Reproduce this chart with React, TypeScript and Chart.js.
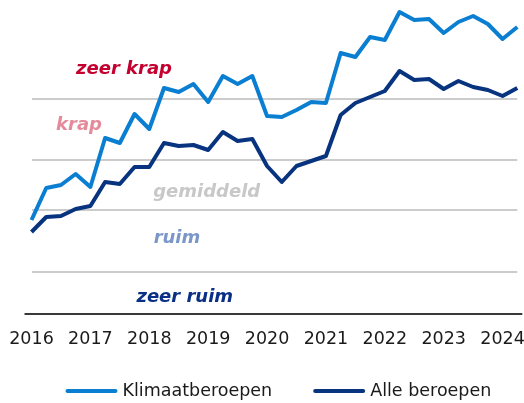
import React, { useEffect, useRef } from "react";
import { Chart, registerables } from "chart.js";

Chart.register(...registerables);

const QUARTERS: string[] = [
  "2016 K1", "2016 K2", "2016 K3", "2016 K4",
  "2017 K1", "2017 K2", "2017 K3", "2017 K4",
  "2018 K1", "2018 K2", "2018 K3", "2018 K4",
  "2019 K1", "2019 K2", "2019 K3", "2019 K4",
  "2020 K1", "2020 K2", "2020 K3", "2020 K4",
  "2021 K1", "2021 K2", "2021 K3", "2021 K4",
  "2022 K1", "2022 K2", "2022 K3", "2022 K4",
  "2023 K1", "2023 K2", "2023 K3", "2023 K4",
  "2024 K1", "2024 K2",
];

const KLIMAAT: number[] = [
  0.94, 1.26, 1.29, 1.40, 1.27, 1.76, 1.71, 2.00, 1.85, 2.26, 2.22, 2.30,
  2.12, 2.38, 2.30, 2.38, 1.98, 1.97, 2.04, 2.12, 2.11, 2.61, 2.57, 2.77,
  2.74, 3.02, 2.94, 2.95, 2.81, 2.92, 2.98, 2.90, 2.75, 2.87,
];

const ALLE: number[] = [
  0.82, 0.97, 0.98, 1.05, 1.08, 1.32, 1.30, 1.47, 1.47, 1.71, 1.68, 1.69,
  1.64, 1.82, 1.73, 1.75, 1.48, 1.32, 1.48, 1.53, 1.58, 1.99, 2.11, 2.17,
  2.23, 2.43, 2.34, 2.35, 2.25, 2.33, 2.27, 2.24, 2.18, 2.26,
];

const SERIES_NAMES: string[] = ["Klimaatberoepen", "Alle beroepen"];
const SERIES_COLORS: string[] = ["#0a7fd2", "#08337f"];

// Threshold lines between the tension classes
const GRID_VALUES: number[] = [0.42, 1.04, 1.54, 2.15];

// Class labels: text, colour, x position (quarter index), y value (baseline)
const ZONE_TEXTS: string[] = ["zeer krap", "krap", "gemiddeld", "ruim", "zeer ruim"];
const ZONE_COLORS: string[] = ["#c3002f", "#e58a9a", "#c8c8c8", "#7b97c8", "#0a2f86"];
const ZONE_X: number[] = [6.28, 3.23, 11.9, 9.88, 10.41];
const ZONE_Y: number[] = [2.40, 1.84, 1.175, 0.71, 0.125];

const FONT = "'DejaVu Sans', Verdana, sans-serif";

const zonePlugin = {
  id: "zoneLabels",
  beforeDatasetsDraw(chart: any) {
    const { ctx, scales } = chart;
    ctx.save();
    ctx.font = `italic bold 18px ${FONT}`;
    ctx.textAlign = "center";
    ctx.textBaseline = "alphabetic";
    ZONE_TEXTS.forEach((t, i) => {
      ctx.fillStyle = ZONE_COLORS[i];
      ctx.fillText(t, scales.x.getPixelForValue(ZONE_X[i]), scales.y.getPixelForValue(ZONE_Y[i]));
    });
    ctx.restore();
  },
};

const axisLinePlugin = {
  id: "axisLine",
  afterDraw(chart: any) {
    const { ctx, chartArea } = chart;
    ctx.save();
    ctx.strokeStyle = "#3a3a3a";
    ctx.lineWidth = 2;
    ctx.beginPath();
    ctx.moveTo(chartArea.left - 7, chartArea.bottom);
    ctx.lineTo(chartArea.right + 5, chartArea.bottom);
    ctx.stroke();
    ctx.restore();
  },
};

const legendPlugin = {
  id: "customLegend",
  afterDraw(chart: any) {
    const { ctx, chartArea } = chart;
    const lineW = 52;
    const gap = 5;
    const itemGap = 41;
    ctx.save();
    ctx.font = `17.5px ${FONT}`;
    const widths = chart.data.datasets.map((d: any) => ctx.measureText(d.label).width);
    const total = widths.reduce((a: number, w: number) => a + lineW + gap + w, 0) + itemGap * (widths.length - 1);
    let x = (chartArea.left + chartArea.right) / 2 + 4 - total / 2;
    const y = 391;
    chart.data.datasets.forEach((d: any, i: number) => {
      ctx.strokeStyle = d.borderColor;
      ctx.lineWidth = 4;
      ctx.lineCap = "round";
      ctx.beginPath();
      ctx.moveTo(x + 2, y);
      ctx.lineTo(x + lineW - 2, y);
      ctx.stroke();
      ctx.fillStyle = "#1a1a1a";
      ctx.textAlign = "left";
      ctx.textBaseline = "middle";
      ctx.fillText(d.label, x + lineW + gap, y);
      x += lineW + gap + widths[i] + itemGap;
    });
    ctx.restore();
  },
};

export default function App() {
  const ref = useRef<HTMLCanvasElement | null>(null);

  useEffect(() => {
    if (!ref.current) return;
    const chart = new Chart(ref.current, {
      type: "line",
      data: {
        labels: QUARTERS,
        datasets: [
          {
            label: SERIES_NAMES[0],
            data: KLIMAAT,
            borderColor: SERIES_COLORS[0],
            backgroundColor: SERIES_COLORS[0],
            borderWidth: 4,
            pointRadius: 0,
            tension: 0,
            borderJoinStyle: "round",
          },
          {
            label: SERIES_NAMES[1],
            data: ALLE,
            borderColor: SERIES_COLORS[1],
            backgroundColor: SERIES_COLORS[1],
            borderWidth: 4,
            pointRadius: 0,
            tension: 0,
            borderJoinStyle: "round",
          },
        ],
      },
      options: {
        responsive: false,
        animation: false,
        layout: { padding: { left: 31.5, right: 6.7, top: 0, bottom: 54 } },
        plugins: {
          legend: { display: false },
          tooltip: { enabled: false },
        },
        scales: {
          x: {
            type: "category",
            grid: { display: false, drawTicks: false },
            border: { display: false },
            ticks: {
              autoSkip: false,
              maxRotation: 0,
              padding: 15,
              color: "#1a1a1a",
              font: { family: FONT, size: 17.5 },
              callback: (_v: any, idx: number) =>
                QUARTERS[idx].endsWith("K1") ? QUARTERS[idx].slice(0, 4) : null,
            },
            afterFit: (scale: any) => {
              scale.paddingLeft = 0;
              scale.paddingRight = 0;
              scale.height = 35;
            },
          },
          y: {
            min: 0,
            max: 3.14,
            grid: { color: "#cccccc", lineWidth: 2, drawTicks: false },
            border: { display: false },
            ticks: { display: false },
            afterBuildTicks: (scale: any) => {
              scale.ticks = GRID_VALUES.map((v) => ({ value: v }));
            },
            afterFit: (scale: any) => {
              scale.width = 0;
              scale.paddingTop = 0;
              scale.paddingBottom = 0;
            },
          },
        },
      },
      plugins: [zonePlugin, axisLinePlugin, legendPlugin],
    });
    return () => chart.destroy();
  }, []);

  return (
    <div style={{ position: "fixed", left: 0, top: 0, width: 524, height: 403, background: "#fff" }}>
      <canvas ref={ref} width={524} height={403} />
    </div>
  );
}
